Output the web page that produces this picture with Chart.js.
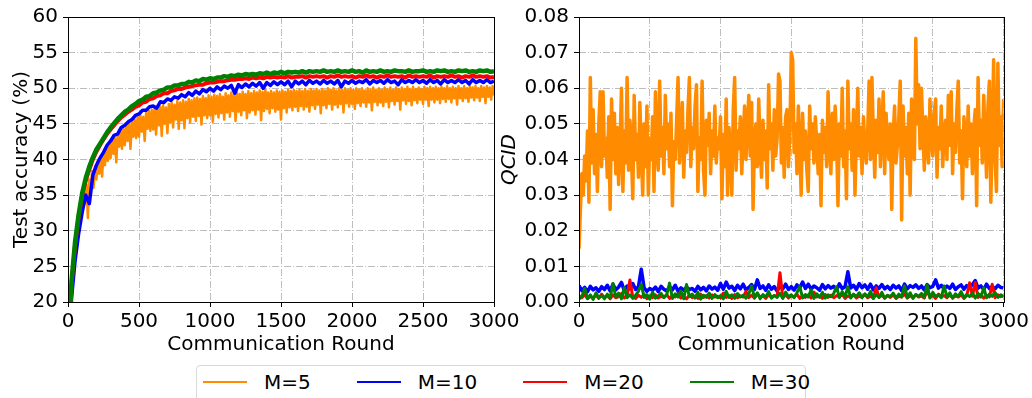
<!DOCTYPE html>
<html>
<head>
<meta charset="utf-8">
<script src="https://cdn.jsdelivr.net/npm/chart.js@4.4.1/dist/chart.umd.min.js"></script>
<style>
  html, body { margin: 0; padding: 0; background: #fff; }
  body { width: 1032px; height: 398px; position: relative; overflow: hidden; font-family: "DejaVu Sans", sans-serif; }
  #leftCanvas { position: absolute; left: 0; top: 0; }
  #rightCanvas { position: absolute; left: 496px; top: 0; }
  .legend { position: absolute; left: 196px; top: 365px; width: 610px; height: 44px;
            border: 1px solid #d9d9d9; border-radius: 4px; box-sizing: border-box; background: #fff; }
  .legend-row { display: flex; align-items: center; height: 24px; margin-top: 4px; padding-left: 6px; }
  .legend-item { display: flex; align-items: center; margin-right: 46px; font-size: 20px; color: #000; }
  .legend-line { width: 44px; height: 2.5px; margin-right: 17px; }
</style>
</head>
<body>
<canvas id="leftCanvas" width="524" height="360"></canvas>
<canvas id="rightCanvas" width="536" height="360"></canvas>
<div class="legend"><div class="legend-row" id="legendRow"></div></div>

<script>
// ---- data ----
const seriesNames = ['M=5', 'M=10', 'M=20', 'M=30'];
const seriesColors = ['#ff8c00', '#0000ff', '#ff0000', '#008000'];

// left panel: test accuracy
// M=5 every 10 rounds, the others every 25 rounds (0..3000)
const accStepM5 = 10;
const accStep = 25;
const accM5 = [
  10, 14, 19.5, 23.5, 25.0, 28.0, 27.5, 30.5, 30.0, 33.0,
  32.5, 35.5, 33.8, 36.5, 31.8, 37.2, 35.5, 38.4, 36.0, 38.8,
  37.2, 39.8, 38.0, 40.5, 37.6, 41.0, 39.2, 41.5, 39.8, 42.2,
  40.2, 42.8, 40.8, 43.0, 39.6, 43.5, 41.8, 44.0, 41.5, 44.3,
  42.0, 44.8, 42.6, 45.0, 41.5, 45.3, 43.2, 45.6, 43.0, 46.0,
  43.2, 46.2, 43.9, 46.0, 42.6, 46.6, 44.3, 46.8, 44.0, 47.0,
  44.2, 47.2, 43.5, 47.0, 44.8, 47.4, 43.3, 47.6, 45.0, 47.3,
  43.7, 47.8, 45.2, 48.0, 44.5, 47.7, 45.6, 48.2, 44.3, 48.0,
  45.5, 48.3, 44.4, 48.1, 45.8, 48.5, 45.2, 48.3, 46.0, 48.6,
  45.4, 48.7, 46.1, 48.5, 44.9, 48.9, 46.2, 48.6, 45.8, 49.0,
  46.2, 48.8, 45.3, 49.1, 46.4, 48.9, 45.9, 49.2, 46.5, 48.8,
  45.6, 49.3, 46.6, 49.0, 46.0, 49.4, 46.8, 49.1, 45.4, 49.4,
  46.7, 49.2, 46.2, 49.5, 46.9, 49.2, 45.8, 49.6, 46.6, 49.3,
  46.9, 49.6, 46.3, 49.4, 47.0, 49.7, 45.5, 49.5, 46.8, 49.8,
  47.1, 49.4, 46.5, 49.6, 47.2, 49.4, 46.7, 49.7, 47.0, 49.5,
  45.6, 49.7, 47.2, 49.5, 46.6, 49.8, 47.3, 49.6, 46.9, 49.8,
  47.4, 49.6, 46.8, 49.8, 47.5, 49.6, 47.0, 49.9, 47.4, 49.6,
  46.7, 49.9, 47.6, 49.7, 47.1, 49.9, 47.7, 49.7, 46.5, 49.9,
  47.6, 49.7, 47.2, 50.0, 47.8, 49.8, 47.0, 50.0, 47.7, 49.7,
  47.3, 50.0, 47.8, 49.8, 46.6, 50.0, 47.9, 49.8, 47.4, 50.0,
  47.8, 49.8, 47.1, 50.0, 47.9, 49.8, 47.5, 50.0, 48.0, 49.7,
  47.4, 50.0, 48.0, 49.8, 46.9, 50.1, 48.1, 49.8, 47.6, 50.0,
  48.0, 49.8, 47.5, 50.1, 48.1, 49.9, 47.3, 50.1, 48.2, 49.8,
  47.7, 50.1, 48.2, 49.9, 47.0, 50.1, 48.3, 49.9, 47.8, 50.2,
  48.2, 49.9, 47.6, 50.2, 48.3, 49.9, 47.9, 50.1, 48.4, 49.9,
  47.8, 50.2, 48.4, 50.0, 47.5, 50.2, 48.4, 50.0, 48.0, 50.2,
  48.4, 50.0, 47.9, 50.2, 48.5, 50.0, 48.1, 50.3, 48.5, 50.0,
  48.0, 50.2, 48.6, 50.0, 47.7, 50.3, 48.6, 50.0, 48.2, 50.3,
  48.6, 50.0, 48.1, 50.3, 48.7, 50.1, 48.3, 50.3, 48.7, 50.0,
  48.2, 50.3, 48.8, 50.1, 47.9, 50.3, 48.8, 50.1, 48.4, 50.3,
  49.0
];
const accM10 = [
  10, 20.5, 25.8, 29.6, 32.6, 35.0, 33.8, 37.8, 39.2, 40.2,
  41.0, 42.0, 42.6, 43.4, 43.6, 44.5, 44.8, 45.3, 45.6, 46.2,
  46.4, 46.9, 46.9, 47.4, 47.5, 47.2, 48.1, 48.0, 48.5, 48.3,
  48.8, 48.6, 49.1, 48.8, 49.4, 49.0, 49.6, 49.2, 49.8, 49.5,
  50.0, 49.6, 50.2, 49.8, 50.3, 50.0, 50.4, 49.3, 50.5, 50.1,
  50.6, 50.2, 50.7, 50.3, 50.8, 50.0, 50.8, 50.4, 50.9, 50.5,
  50.9, 50.5, 51.0, 50.2, 51.0, 50.6, 51.0, 50.5, 51.1, 50.7,
  51.0, 50.6, 51.1, 50.7, 51.0, 50.6, 51.1, 50.2, 51.0, 50.7,
  51.1, 50.7, 51.0, 50.8, 51.2, 50.6, 51.1, 50.8, 51.1, 50.7,
  51.2, 50.8, 51.0, 50.5, 51.2, 50.8, 51.1, 50.8, 51.2, 50.8,
  51.1, 50.7, 51.2, 50.8, 51.1, 50.6, 51.2, 50.8, 51.1, 50.8,
  51.2, 50.8, 51.1, 50.6, 51.2, 50.8, 51.1, 50.8, 51.2, 50.8,
  51.0
];
const accM20 = [
  11, 22.5, 28.0, 32.0, 35.0, 37.0, 38.6, 40.0, 41.1, 42.0,
  42.8, 43.6, 44.2, 44.8, 45.4, 45.9, 46.3, 46.7, 47.0, 47.4,
  47.6, 48.0, 48.1, 48.5, 48.6, 48.9, 49.0, 49.3, 49.3, 49.6,
  49.7, 49.9, 49.9, 50.1, 50.2, 50.3, 50.4, 50.5, 50.5, 50.7,
  50.8, 50.8, 50.9, 51.0, 51.0, 51.1, 51.2, 51.2, 51.3, 51.3,
  51.4, 51.3, 51.5, 51.4, 51.5, 51.4, 51.6, 51.5, 51.6, 51.5,
  51.6, 51.5, 51.7, 51.5, 51.6, 51.6, 51.7, 51.5, 51.7, 51.6,
  51.7, 51.6, 51.7, 51.5, 51.7, 51.6, 51.8, 51.6, 51.7, 51.6,
  51.7, 51.5, 51.7, 51.6, 51.8, 51.6, 51.7, 51.5, 51.7, 51.6,
  51.8, 51.6, 51.7, 51.6, 51.7, 51.5, 51.8, 51.6, 51.7, 51.6,
  51.7, 51.6, 51.8, 51.5, 51.7, 51.6, 51.7, 51.6, 51.8, 51.6,
  51.7, 51.5, 51.7, 51.6, 51.8, 51.6, 51.7, 51.6, 51.7, 51.5,
  51.6
];
const accM30 = [
  12, 23.0, 28.5, 32.3, 35.3, 37.4, 39.0, 40.3, 41.4, 42.2,
  43.0, 43.8, 44.5, 45.1, 45.7, 46.2, 46.7, 47.0, 47.5, 47.8,
  48.2, 48.4, 48.8, 48.9, 49.3, 49.4, 49.7, 49.8, 50.1, 50.1,
  50.4, 50.4, 50.6, 50.6, 50.9, 50.8, 51.1, 51.0, 51.3, 51.2,
  51.4, 51.3, 51.5, 51.5, 51.7, 51.6, 51.8, 51.7, 51.9, 51.8,
  52.0, 51.9, 52.0, 51.9, 52.1, 52.0, 52.2, 52.0, 52.2, 52.1,
  52.3, 52.1, 52.3, 52.2, 52.3, 52.2, 52.4, 52.2, 52.4, 52.3,
  52.4, 52.3, 52.5, 52.3, 52.4, 52.3, 52.5, 52.3, 52.4, 52.3,
  52.5, 52.3, 52.4, 52.2, 52.5, 52.3, 52.4, 52.3, 52.5, 52.3,
  52.4, 52.3, 52.5, 52.4, 52.4, 52.3, 52.5, 52.3, 52.4, 52.4,
  52.5, 52.3, 52.4, 52.3, 52.5, 52.4, 52.5, 52.3, 52.4, 52.3,
  52.5, 52.4, 52.5, 52.3, 52.4, 52.3, 52.5, 52.4, 52.5, 52.3,
  52.4
];

// right panel: QCID, M=5 every 10 rounds, the others every 20 rounds
const qcidStepM5 = 10;
const qcidStep = 20;
const qcidM5 = [
  0.015, 0.026, 0.036, 0.030, 0.041, 0.034, 0.048, 0.028, 0.063, 0.039,
  0.054, 0.036, 0.047, 0.031, 0.050, 0.059, 0.038, 0.059, 0.041, 0.046,
  0.035, 0.052, 0.026, 0.057, 0.040, 0.053, 0.036, 0.049, 0.033, 0.044,
  0.060, 0.031, 0.048, 0.039, 0.063, 0.037, 0.051, 0.042, 0.029, 0.058,
  0.040, 0.047, 0.035, 0.056, 0.043, 0.030, 0.050, 0.038, 0.055, 0.030,
  0.046, 0.040, 0.052, 0.031, 0.059, 0.044, 0.037, 0.062, 0.041, 0.049,
  0.036, 0.058, 0.043, 0.050, 0.038, 0.053, 0.027, 0.045, 0.040, 0.051,
  0.063, 0.039, 0.047, 0.056, 0.035, 0.048, 0.042, 0.054, 0.063, 0.038,
  0.049, 0.043, 0.055, 0.061, 0.031, 0.046, 0.040, 0.062, 0.037, 0.030,
  0.051, 0.044, 0.053, 0.036, 0.048, 0.041, 0.055, 0.039, 0.046, 0.043,
  0.052, 0.029, 0.047, 0.038, 0.057, 0.030, 0.049, 0.042, 0.030, 0.054,
  0.063, 0.037, 0.048, 0.043, 0.052, 0.036, 0.046, 0.055, 0.040, 0.049,
  0.058, 0.041, 0.056, 0.026, 0.045, 0.050, 0.038, 0.057, 0.044, 0.035,
  0.051, 0.040, 0.048, 0.032, 0.061, 0.043, 0.050, 0.037, 0.054, 0.041,
  0.046, 0.064, 0.062, 0.039, 0.049, 0.035, 0.052, 0.054, 0.038, 0.047,
  0.070, 0.068, 0.042, 0.050, 0.036, 0.055, 0.044, 0.030, 0.053, 0.040,
  0.048, 0.037, 0.031, 0.055, 0.043, 0.050, 0.039, 0.052, 0.045, 0.036,
  0.047, 0.027, 0.051, 0.042, 0.049, 0.038, 0.059, 0.044, 0.036, 0.053,
  0.040, 0.055, 0.046, 0.027, 0.050, 0.041, 0.060, 0.038, 0.048, 0.029,
  0.062, 0.043, 0.050, 0.037, 0.054, 0.030, 0.046, 0.060, 0.041, 0.049,
  0.036, 0.052, 0.044, 0.039, 0.048, 0.062, 0.040, 0.063, 0.047, 0.035,
  0.051, 0.042, 0.057, 0.038, 0.049, 0.059, 0.036, 0.053, 0.045, 0.040,
  0.050, 0.026, 0.047, 0.055, 0.039, 0.044, 0.052, 0.062, 0.023, 0.055,
  0.041, 0.049, 0.036, 0.053, 0.030, 0.057, 0.045, 0.040, 0.074, 0.050,
  0.061, 0.043, 0.060, 0.048, 0.037, 0.052, 0.044, 0.039, 0.057, 0.046,
  0.041, 0.053, 0.057, 0.035, 0.049, 0.043, 0.055, 0.038, 0.047, 0.051,
  0.040, 0.058, 0.044, 0.059, 0.036, 0.050, 0.042, 0.054, 0.062, 0.039,
  0.048, 0.029, 0.052, 0.045, 0.038, 0.055, 0.041, 0.050, 0.036, 0.049,
  0.054, 0.027, 0.063, 0.044, 0.051, 0.039, 0.058, 0.046, 0.035, 0.055,
  0.062, 0.028, 0.047, 0.068, 0.040, 0.031, 0.067, 0.044, 0.052, 0.038,
  0.057
];
const qcidM10 = [
  0.0046, 0.0032, 0.0041, 0.0029, 0.0044, 0.0034, 0.0040, 0.0030, 0.0043, 0.0035,
  0.0047, 0.0031, 0.0050, 0.0034, 0.0042, 0.0055, 0.0032, 0.0045, 0.0037, 0.0052,
  0.0035, 0.0043, 0.0092, 0.0040, 0.0030, 0.0038, 0.0033, 0.0042, 0.0029, 0.0044,
  0.0036, 0.0031, 0.0043, 0.0034, 0.0047, 0.0030, 0.0040, 0.0033, 0.0042, 0.0035,
  0.0038, 0.0030, 0.0044, 0.0034, 0.0041, 0.0031, 0.0045, 0.0036, 0.0042, 0.0033,
  0.0052, 0.0036, 0.0056, 0.0039, 0.0044, 0.0032, 0.0047, 0.0037, 0.0050, 0.0034,
  0.0041, 0.0049, 0.0035, 0.0062, 0.0038, 0.0045, 0.0033, 0.0048, 0.0036, 0.0043,
  0.0031, 0.0045, 0.0037, 0.0050, 0.0035, 0.0043, 0.0033, 0.0048, 0.0040, 0.0056,
  0.0038, 0.0050, 0.0036, 0.0045, 0.0040, 0.0033, 0.0049, 0.0037, 0.0046, 0.0039,
  0.0044, 0.0034, 0.0051, 0.0038, 0.0043, 0.0085, 0.0039, 0.0047, 0.0035, 0.0052,
  0.0040, 0.0048, 0.0036, 0.0050, 0.0034, 0.0045, 0.0038, 0.0049, 0.0037, 0.0044,
  0.0035, 0.0047, 0.0039, 0.0045, 0.0032, 0.0050, 0.0037, 0.0046, 0.0041, 0.0048,
  0.0038, 0.0045, 0.0034, 0.0049, 0.0040, 0.0044, 0.0062, 0.0039, 0.0047, 0.0037,
  0.0045, 0.0038, 0.0050, 0.0035, 0.0043, 0.0048, 0.0036, 0.0046, 0.0040, 0.0049,
  0.0060, 0.0039, 0.0045, 0.0035, 0.0050, 0.0038, 0.0044, 0.0037, 0.0047, 0.0041,
  0.0040
];
const qcidM20 = [
  0.0018, 0.0012, 0.0021, 0.0009, 0.0016, 0.0011, 0.0019, 0.0010, 0.0022, 0.0013,
  0.0017, 0.0009, 0.0020, 0.0012, 0.0015, 0.0024, 0.0011, 0.0018, 0.0062, 0.0014,
  0.0010, 0.0019, 0.0013, 0.0022, 0.0009, 0.0017, 0.0012, 0.0020, 0.0011, 0.0016,
  0.0013, 0.0021, 0.0010, 0.0018, 0.0014, 0.0023, 0.0011, 0.0016, 0.0009, 0.0019,
  0.0012, 0.0017, 0.0010, 0.0022, 0.0013, 0.0018, 0.0011, 0.0020, 0.0014, 0.0016,
  0.0011, 0.0025, 0.0013, 0.0018, 0.0010, 0.0021, 0.0012, 0.0017, 0.0014, 0.0030,
  0.0012, 0.0019, 0.0011, 0.0023, 0.0014, 0.0017, 0.0010, 0.0021, 0.0013, 0.0018,
  0.0015, 0.0082, 0.0012, 0.0020, 0.0011, 0.0018, 0.0014, 0.0022, 0.0010, 0.0017,
  0.0013, 0.0020, 0.0011, 0.0028, 0.0014, 0.0017, 0.0010, 0.0021, 0.0013, 0.0019,
  0.0012, 0.0018, 0.0014, 0.0022, 0.0010, 0.0017, 0.0013, 0.0020, 0.0011, 0.0016,
  0.0014, 0.0021, 0.0012, 0.0017, 0.0010, 0.0040, 0.0013, 0.0019, 0.0011, 0.0018,
  0.0013, 0.0020, 0.0010, 0.0016, 0.0014, 0.0023, 0.0011, 0.0018, 0.0012, 0.0021,
  0.0014, 0.0017, 0.0011, 0.0032, 0.0013, 0.0019, 0.0010, 0.0022, 0.0015, 0.0018,
  0.0012, 0.0020, 0.0011, 0.0017, 0.0014, 0.0021, 0.0010, 0.0018, 0.0054, 0.0016,
  0.0055, 0.0013, 0.0021, 0.0011, 0.0019, 0.0014, 0.0050, 0.0012, 0.0020, 0.0015,
  0.0018
];
const qcidM30 = [
  0.0008, 0.0015, 0.0038, 0.0010, 0.0020, 0.0007, 0.0026, 0.0012, 0.0018, 0.0009,
  0.0022, 0.0011, 0.0052, 0.0014, 0.0025, 0.0009, 0.0040, 0.0012, 0.0020, 0.0010,
  0.0019, 0.0030, 0.0050, 0.0013, 0.0021, 0.0008, 0.0028, 0.0011, 0.0017, 0.0024,
  0.0012, 0.0020, 0.0053, 0.0010, 0.0023, 0.0014, 0.0031, 0.0009, 0.0049, 0.0015,
  0.0022, 0.0011, 0.0027, 0.0008, 0.0019, 0.0013, 0.0025, 0.0010, 0.0021, 0.0012,
  0.0018, 0.0009, 0.0030, 0.0013, 0.0020, 0.0010, 0.0024, 0.0014, 0.0019, 0.0011,
  0.0023, 0.0045, 0.0012, 0.0026, 0.0009, 0.0021, 0.0014, 0.0029, 0.0011, 0.0018,
  0.0013, 0.0024, 0.0010, 0.0028, 0.0015, 0.0020, 0.0012, 0.0026, 0.0043, 0.0011,
  0.0021, 0.0014, 0.0034, 0.0010, 0.0023, 0.0013, 0.0027, 0.0011, 0.0020, 0.0015,
  0.0024, 0.0043, 0.0012, 0.0029, 0.0014, 0.0043, 0.0011, 0.0022, 0.0015, 0.0026,
  0.0012, 0.0023, 0.0014, 0.0030, 0.0010, 0.0021, 0.0013, 0.0027, 0.0011, 0.0019,
  0.0015, 0.0025, 0.0011, 0.0022, 0.0014, 0.0045, 0.0012, 0.0026, 0.0010, 0.0021,
  0.0016, 0.0024, 0.0013, 0.0048, 0.0011, 0.0027, 0.0015, 0.0020, 0.0012, 0.0045,
  0.0014, 0.0026, 0.0011, 0.0023, 0.0016, 0.0029, 0.0012, 0.0021, 0.0015, 0.0025,
  0.0011, 0.0024, 0.0014, 0.0040, 0.0012, 0.0022, 0.0016, 0.0027, 0.0013, 0.0020,
  0.0015
];

// ---- helpers ----
function points(step, values) {
  return values.map((v, i) => ({ x: i * step, y: v }));
}

function lineSet(idx, step, values, width) {
  return {
    label: seriesNames[idx],
    data: points(step, values),
    borderColor: seriesColors[idx],
    backgroundColor: seriesColors[idx],
    borderWidth: width,
    pointRadius: 0,
    tension: 0,
    fill: false,
    borderJoinStyle: 'round',
    order: 4 - idx   // M=30 ends up on top, like the original
  };
}

// black box around the plot area (matplotlib spines)
const framePlugin = {
  id: 'frame',
  afterDraw(chart) {
    const a = chart.chartArea;
    const ctx = chart.ctx;
    ctx.save();
    ctx.strokeStyle = '#000';
    ctx.lineWidth = 1;
    ctx.strokeRect(Math.round(a.left) + 0.5, Math.round(a.top) + 0.5,
                   Math.round(a.right - a.left), Math.round(a.bottom - a.top));
    ctx.restore();
  }
};

const gridOpts = {
  color: '#bdbdbd',
  lineWidth: 1,
  tickColor: '#000',
  tickLength: 5,
  tickWidth: 1,
  tickBorderDash: []
};
const borderOpts = { display: false, dash: [7, 2, 1, 2] };
const tickFont = { family: 'DejaVu Sans', size: 20 };

function makeOptions(cfg) {
  return {
    responsive: false,
    animation: false,
    events: [],
    layout: { padding: { left: 0, top: 17, right: cfg.padRight, bottom: 3 } },
    plugins: { legend: { display: false }, tooltip: { enabled: false } },
    scales: {
      x: {
        type: 'linear',
        min: 0,
        max: 3000,
        grid: gridOpts,
        border: borderOpts,
        ticks: {
          stepSize: 500,
          maxRotation: 0,
          autoSkip: false,
          padding: 3,
          color: '#000',
          font: tickFont,
          callback: v => String(v)
        },
        title: {
          display: true,
          text: 'Communication Round',
          color: '#000',
          font: { family: 'DejaVu Sans', size: 20 },
          padding: { top: 0, bottom: 0 }
        },
        afterFit: s => { s.height = 55; }
      },
      y: {
        type: 'linear',
        min: cfg.yMin,
        max: cfg.yMax,
        grid: gridOpts,
        border: borderOpts,
        ticks: {
          stepSize: cfg.yStep,
          padding: 5,
          color: '#000',
          font: tickFont,
          callback: cfg.yFormat
        },
        title: {
          display: true,
          text: cfg.yTitle,
          color: '#000',
          font: { family: 'DejaVu Sans', size: 20, style: cfg.yTitleStyle },
          padding: { top: cfg.yTitlePad, bottom: 0 }
        },
        afterFit: s => { s.width = cfg.axisWidth; }
      }
    }
  };
}

// ---- left: test accuracy ----
new Chart(document.getElementById('leftCanvas'), {
  type: 'line',
  data: {
    datasets: [
      lineSet(0, accStepM5, accM5, 2.5),
      lineSet(1, accStep, accM10, 3.5),
      lineSet(2, accStep, accM20, 4),
      lineSet(3, accStep, accM30, 4.5)
    ]
  },
  options: makeOptions({
    padRight: 30, axisWidth: 68,
    yMin: 20, yMax: 60, yStep: 5,
    yFormat: v => String(v),
    yTitle: 'Test accuracy (%)', yTitleStyle: 'normal', yTitlePad: 10
  }),
  plugins: [framePlugin]
});

// ---- right: QCID ----
new Chart(document.getElementById('rightCanvas'), {
  type: 'line',
  data: {
    datasets: [
      lineSet(0, qcidStepM5, qcidM5, 3.5),
      lineSet(1, qcidStep, qcidM10, 3.5),
      lineSet(2, qcidStep, qcidM20, 3),
      lineSet(3, qcidStep, qcidM30, 3)
    ]
  },
  options: makeOptions({
    padRight: 27, axisWidth: 83,
    yMin: 0, yMax: 0.08, yStep: 0.01,
    yFormat: v => v.toFixed(2),
    yTitle: 'QCID', yTitleStyle: 'italic', yTitlePad: 2
  }),
  plugins: [framePlugin]
});

// ---- shared legend under both panels ----
const legendRow = document.getElementById('legendRow');
seriesNames.forEach((name, i) => {
  const item = document.createElement('div');
  item.className = 'legend-item';
  item.innerHTML = '<span class="legend-line" style="background:' + seriesColors[i] + '"></span>' +
                   '<span>' + name + '</span>';
  legendRow.appendChild(item);
});
</script>
</body>
</html>
